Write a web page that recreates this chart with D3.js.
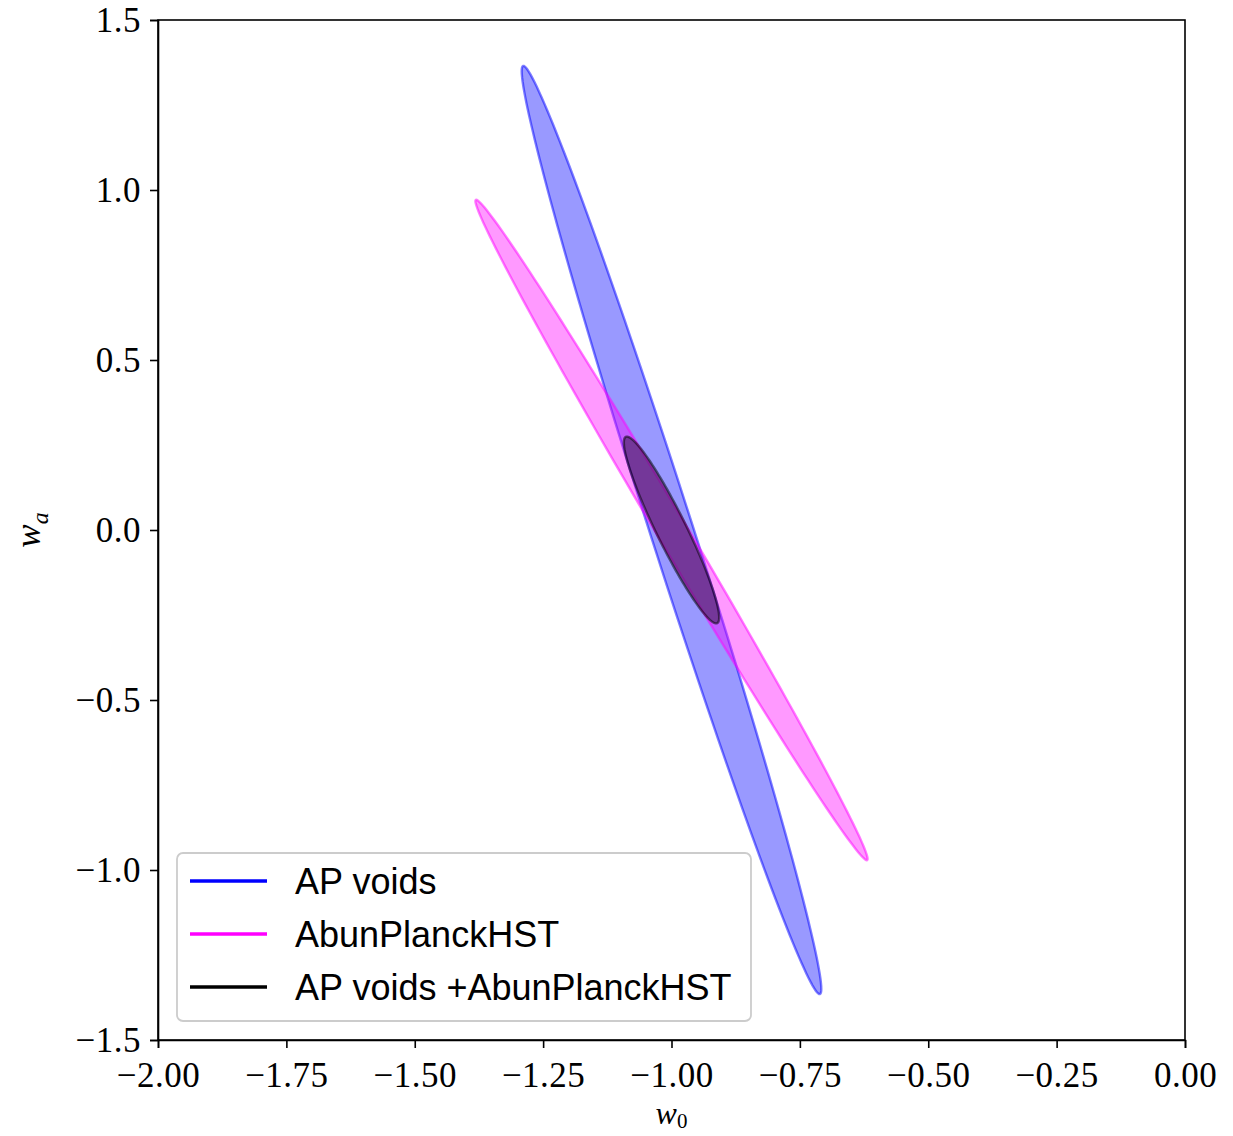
<!DOCTYPE html>
<html>
<head>
<meta charset="utf-8">
<script src="https://cdn.jsdelivr.net/npm/d3@7"></script>
<style>
  html, body { margin: 0; padding: 0; background: #fff; }
  svg { display: block; }
</style>
</head>
<body>
<svg id="chart" width="1233" height="1136"></svg>
<script>
// ---- Data ----
const xTicks = [-2.00, -1.75, -1.50, -1.25, -1.00, -0.75, -0.50, -0.25, 0.00];
const yTicks = [-1.5, -1.0, -0.5, 0.0, 0.5, 1.0, 1.5];
const seriesNames = ["AP voids", "AbunPlanckHST", "AP voids +AbunPlanckHST"];
const seriesColors = ["#0000ff", "#ff00ff", "#000000"];
// ellipse centres (w0, wa)
const centers = [[-1.0, 0.0], [-1.0, 0.0], [-1.0, 0.0]];
// upper tip of each ellipse (w0, wa)
const tips = [[-1.289, 1.365], [-1.381, 0.971], [-1.089, 0.274]];
// minor / major axis ratio (as seen on the plot)
const axisRatios = [0.044, 0.039, 0.145];

// ---- Layout ----
const svg = d3.select("#chart");
const mL = 158, mR = 1185, mT = 20, mB = 1040;
const x = d3.scaleLinear().domain([-2, 0]).range([mL, mR]);
const y = d3.scaleLinear().domain([-1.5, 1.5]).range([mB, mT]);

const fmtMinus = s => s.replace("-", "\u2212\u200A");

// ---- Ellipses ----
function ellipsePath(c, tip, ratio) {
  const C = [x(c[0]), y(c[1])];
  const T = [x(tip[0]), y(tip[1])];
  const A = [T[0] - C[0], T[1] - C[1]];
  const B = [-A[1] * ratio, A[0] * ratio];
  const pts = d3.range(0, 361, 2).map(deg => {
    const t = deg * Math.PI / 180;
    return [C[0] + Math.cos(t) * A[0] + Math.sin(t) * B[0],
            C[1] + Math.cos(t) * A[1] + Math.sin(t) * B[1]];
  });
  return d3.line()(pts) + "Z";
}

const g = svg.append("g");
seriesNames.forEach((name, i) => {
  g.append("path")
    .attr("d", ellipsePath(centers[i], tips[i], axisRatios[i]))
    .attr("fill", seriesColors[i])
    .attr("fill-opacity", 0.4)
    .attr("stroke", seriesColors[i])
    .attr("stroke-opacity", 0.5)
    .attr("stroke-width", 2.4);
});

// ---- Frame ----
svg.append("rect")
  .attr("x", mL).attr("y", mT)
  .attr("width", mR - mL).attr("height", mB - mT)
  .attr("fill", "none").attr("stroke", "#000").attr("stroke-width", 1.6);

// ---- Axes ----
const serif = "'Liberation Serif', 'DejaVu Serif', serif";
const xAxis = d3.axisBottom(x).tickValues(xTicks).tickSize(8).tickPadding(7)
  .tickFormat(d => fmtMinus(d3.format(".2f")(d)));
const yAxis = d3.axisLeft(y).tickValues(yTicks).tickSize(8).tickPadding(9)
  .tickFormat(d => fmtMinus(d3.format(".1f")(d)));

const gx = svg.append("g").attr("transform", `translate(0,${mB})`).call(xAxis);
const gy = svg.append("g").attr("transform", `translate(${mL},0)`).call(yAxis);
[gx, gy].forEach(ax => {
  ax.select(".domain").attr("stroke", "#000").attr("stroke-width", 1.6);
  ax.selectAll(".tick line").attr("stroke", "#000").attr("stroke-width", 1.6);
  ax.selectAll(".tick text")
    .attr("fill", "#000")
    .style("font-family", serif)
    .style("font-size", "35px")
    .style("letter-spacing", "0.5px");
});
gx.selectAll(".tick text").attr("dy", "0.9em");
gy.selectAll(".tick text").attr("dy", "0.34em");

// ---- Axis labels ----
const xl = svg.append("text")
  .attr("x", x(-1.0)).attr("y", 1124)
  .attr("text-anchor", "middle")
  .style("font-family", serif).style("font-size", "32px").style("font-style", "italic");
xl.append("tspan").text("w");
xl.append("tspan").attr("dy", 4).style("font-size", "21px").style("font-style", "normal").text("0");

const yl = svg.append("text")
  .attr("transform", `translate(40,${y(0)}) rotate(-90)`)
  .attr("text-anchor", "middle")
  .style("font-family", serif).style("font-size", "35px").style("font-style", "italic");
yl.append("tspan").text("w");
yl.append("tspan").attr("dy", 8).style("font-size", "24px").text("a");

// ---- Legend ----
const lg = svg.append("g");
lg.append("rect")
  .attr("x", 177).attr("y", 853).attr("width", 574).attr("height", 168)
  .attr("rx", 6).attr("ry", 6)
  .attr("fill", "#fff").attr("fill-opacity", 0.85)
  .attr("stroke", "#cccccc").attr("stroke-width", 1.8);
seriesNames.forEach((name, i) => {
  const yy = 881 + i * 53;
  lg.append("line")
    .attr("x1", 190).attr("x2", 267).attr("y1", yy).attr("y2", yy)
    .attr("stroke", seriesColors[i]).attr("stroke-width", 3.5);
  lg.append("text")
    .attr("x", 295).attr("y", yy).attr("dy", "0.36em")
    .style("font-family", "'Liberation Sans', Arial, sans-serif")
    .style("font-size", "36px")
    .attr("fill", "#000")
    .text(name);
});
</script>
</body>
</html>
